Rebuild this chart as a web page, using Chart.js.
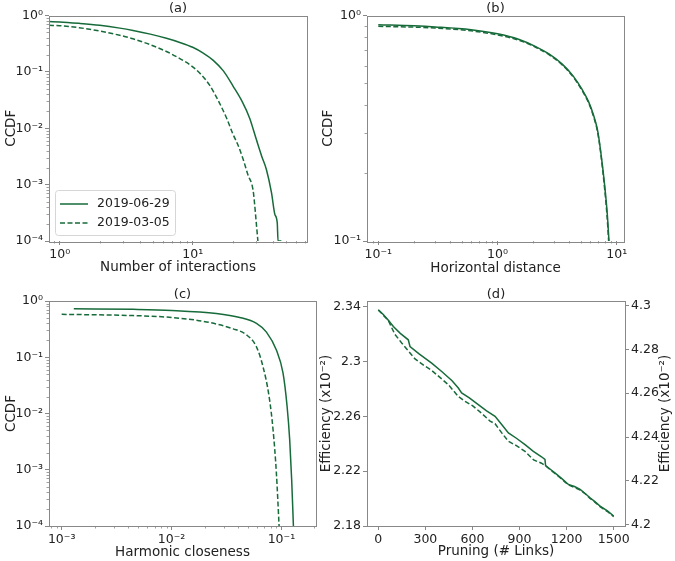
<!DOCTYPE html>
<html>
<head>
<meta charset="utf-8">
<script src="https://cdn.jsdelivr.net/npm/chart.js@4"></script>
<style>
  body { margin: 0; background: #fff; }
  #wrap { position: relative; width: 675px; height: 561px; overflow: hidden; }
  canvas { position: absolute; }
</style>
</head>
<body>
<div id="wrap">
  <canvas id="chartA" width="330" height="280" style="left:0;top:0"></canvas>
  <canvas id="chartB" width="360" height="280" style="left:315px;top:0"></canvas>
  <canvas id="chartC" width="330" height="281" style="left:0;top:280px"></canvas>
  <canvas id="chartD" width="360" height="281" style="left:315px;top:280px"></canvas>
</div>
<script>
// four panels, each one its own chart

const GREEN = '#176b3a';
const FRAME = '#888';
const DATES = ['2019-06-29', '2019-03-05'];
const PANEL_TITLES = ['(a)', '(b)', '(c)', '(d)'];

// (a) number of interactions
const interX0629 = [0.83, 1.0, 1.4, 2.0, 2.83, 3.56, 4.8, 6.34, 8.0, 10, 12, 14.2, 17, 20.1, 23.5, 26.8, 30.1, 33, 35.8, 39.1, 41.4, 43.2, 43.8, 46.4];
const interY0629 = [0.78, 0.77, 0.726, 0.67, 0.597, 0.542, 0.467, 0.394, 0.333, 0.273, 0.215, 0.162, 0.104, 0.056, 0.030, 0.0151, 0.0063, 0.0032, 0.00186, 0.00072, 0.0003, 0.00021, 0.0001, 0.0001];
const interX0305 = [0.83, 1.0, 1.4, 2.0, 2.83, 3.56, 4.8, 6.34, 8.0, 10, 11.6, 13.4, 15.9, 18, 20.1, 22, 23.9, 26.0, 28.4, 29.2, 30.1, 30.9];
const interY0305 = [0.67, 0.66, 0.607, 0.53, 0.445, 0.386, 0.303, 0.230, 0.172, 0.123, 0.089, 0.058, 0.028, 0.015, 0.0078, 0.0049, 0.00285, 0.0015, 0.00081, 0.00045, 0.0002, 0.0001];

// (b) horizontal distance
const distX0629 = [0.1, 0.2, 0.3, 0.6, 1.0, 1.5, 2.07, 2.7, 3.47, 4.3, 5.12, 5.8, 6.4, 6.9, 7.3, 7.93, 8.35, 8.6];
const distY0629 = [0.91, 0.90, 0.89, 0.865, 0.83, 0.785, 0.73, 0.675, 0.61, 0.54, 0.47, 0.415, 0.36, 0.31, 0.254, 0.175, 0.129, 0.1];
const distX0305 = [0.1, 0.2, 0.3, 0.6, 1.0, 1.5, 2.07, 2.7, 3.47, 4.3, 5.12, 5.8, 6.4, 6.9, 7.3, 7.9, 8.3, 8.55];
const distY0305 = [0.895, 0.888, 0.88, 0.855, 0.82, 0.778, 0.725, 0.67, 0.605, 0.535, 0.465, 0.41, 0.355, 0.305, 0.25, 0.172, 0.128, 0.1];

// (c) harmonic closeness
const closeX0629 = [0.00129, 0.00449, 0.01, 0.0256, 0.0418, 0.0593, 0.0731, 0.090, 0.1035, 0.1127, 0.119, 0.124, 0.1286];
const closeY0629 = [0.73, 0.71, 0.68, 0.60, 0.51, 0.40, 0.28, 0.134, 0.052, 0.0133, 0.0034, 0.00067, 0.0001];
const closeX0305 = [0.001, 0.00449, 0.01, 0.0208, 0.0364, 0.0481, 0.0593, 0.068, 0.0773, 0.084, 0.090, 0.0953];
const closeY0305 = [0.58, 0.55, 0.51, 0.425, 0.32, 0.25, 0.153, 0.068, 0.020, 0.0051, 0.00088, 0.0001];

// (d) pruning, left axis for 06-29, right axis for 03-05
const pruneX0629 = [0, 30, 64, 96, 140, 191, 202, 260, 340, 404, 470, 510, 531, 580, 637, 690, 744, 790, 829, 880, 935, 988, 1040, 1062, 1066, 1100, 1137, 1175, 1211, 1250, 1286, 1320, 1349, 1380, 1413, 1460, 1500];
const effic0629 = [2.3376, 2.3345, 2.3300, 2.3255, 2.3205, 2.3158, 2.3109, 2.3055, 2.2988, 2.2927, 2.2860, 2.2806, 2.2770, 2.2735, 2.2685, 2.2640, 2.2600, 2.2535, 2.2479, 2.2440, 2.2394, 2.2345, 2.2305, 2.2285, 2.2241, 2.2210, 2.2176, 2.2140, 2.2103, 2.2088, 2.2067, 2.2035, 2.2006, 2.1978, 2.1945, 2.1910, 2.1873];
const pruneX0305 = [0, 30, 64, 85, 106, 149, 234, 290, 340, 404, 446, 510, 553, 600, 648, 712, 744, 790, 829, 880, 935, 990, 1040, 1073, 1105, 1137, 1175, 1211, 1250, 1286, 1320, 1349, 1380, 1413, 1460, 1500];
const effic0305 = [4.2979, 4.2957, 4.2931, 4.2899, 4.2868, 4.2829, 4.2756, 4.2727, 4.2704, 4.2665, 4.2639, 4.2585, 4.2563, 4.2543, 4.2515, 4.2473, 4.2461, 4.2416, 4.2381, 4.2361, 4.2335, 4.2296, 4.2281, 4.2265, 4.2246, 4.2228, 4.2205, 4.2182, 4.2170, 4.2159, 4.2141, 4.2121, 4.2104, 4.2083, 4.2061, 4.2038];

// tick values for panel (d)
const pruneTicks = [0, 300, 600, 900, 1200, 1500];
const leftEffTicks = [2.18, 2.22, 2.26, 2.30, 2.34];
const rightEffTicks = [4.2, 4.22, 4.24, 4.26, 4.28, 4.3];

Chart.defaults.font.family = "'DejaVu Sans', sans-serif";
Chart.defaults.color = '#222';

const SUP = { '0': '⁰', '1': '¹', '2': '²', '3': '³', '4': '⁴', '5': '⁵', '6': '⁶', '7': '⁷', '8': '⁸', '9': '⁹', '-': '⁻' };
function pow10Label(v) {
    const e = Math.round(Math.log10(v));
    return '10' + String(e).split('').map(c => SUP[c]).join('');
}

// 1..9 x 10^n inside the range, powers of ten are major
function logTicks(min, max) {
    const out = [];
    for (let e = Math.floor(Math.log10(min)); e <= Math.ceil(Math.log10(max)); e++) {
        for (let k = 1; k <= 9; k++) {
            const v = k * Math.pow(10, e);
            if (v >= min * 0.9999 && v <= max * 1.0001) out.push({ value: v, major: k === 1 });
        }
    }
    return out;
}

// major ticks through chart.js, minor ones drawn shorter by a plugin
const tickGrid = {
    drawOnChartArea: false,
    drawTicks: true,
    tickLength: 4,
    tickWidth: 1,
    tickColor: ctx => (ctx.tick && ctx.tick.major ? FRAME : 'rgba(0,0,0,0)')
};

function logAxis(pos, min, max, title, size, titlePad) {
    return {
        type: 'logarithmic', position: pos, min: min, max: max,
        afterBuildTicks: s => { s.ticks = logTicks(min, max); },
        afterFit: s => { if (pos === 'bottom') s.height = size; else s.width = size; },
        border: { display: false },
        grid: tickGrid,
        ticks: {
            autoSkip: false, maxRotation: 0, padding: 2, font: { size: 12.5 },
            callback: (v, i, t) => (t[i].major ? pow10Label(v) : '')
        },
        title: { display: !!title, text: title, font: { size: 13.5 }, padding: titlePad }
    };
}

function linAxis(pos, min, max, vals, title, size, titlePad) {
    return {
        type: 'linear', position: pos, min: min, max: max,
        afterBuildTicks: s => { s.ticks = vals.map(v => ({ value: v, major: true })); },
        afterFit: s => { if (pos === 'bottom') s.height = size; else s.width = size; },
        border: { display: false },
        grid: tickGrid,
        ticks: {
            autoSkip: false, maxRotation: 0, padding: 2, font: { size: 12.5 },
            callback: v => String(parseFloat(v.toFixed(2)))
        },
        title: { display: !!title, text: title, font: { size: 13.5 }, padding: titlePad }
    };
}

function series(xs, ys, label, dashed, axis, smooth) {
    return {
        label: label,
        data: xs.map((x, i) => ({ x: x, y: ys[i] })),
        borderColor: GREEN,
        borderWidth: 1.5,
        borderDash: dashed ? [5, 2.5] : [],
        pointRadius: 0,
        fill: false,
        tension: 0,
        cubicInterpolationMode: smooth ? 'monotone' : 'default',
        yAxisID: axis || 'y'
    };
}

// full box around the plot area like matplotlib spines, plus short minor ticks
const framePlugin = {
    id: 'frame',
    afterDraw(chart) {
        const a = chart.chartArea, ctx = chart.ctx;
        ctx.save();
        ctx.strokeStyle = FRAME;
        ctx.lineWidth = 1;
        ctx.strokeRect(Math.round(a.left) + 0.5, Math.round(a.top) + 0.5, Math.round(a.right - a.left), Math.round(a.bottom - a.top));
        ctx.lineWidth = 0.8;
        Object.values(chart.scales).forEach(s => {
            if (s.type !== 'logarithmic') return;
            s.ticks.forEach(t => {
                if (t.major) return;
                const p = Math.round(s.getPixelForValue(t.value)) + 0.5;
                ctx.beginPath();
                if (s.isHorizontal()) { ctx.moveTo(p, s.top); ctx.lineTo(p, s.top + 2.5); }
                else { ctx.moveTo(s.right, p); ctx.lineTo(s.right - 2.5, p); }
                ctx.stroke();
            });
        });
        ctx.restore();
    }
};

// legend box in the lower left of panel (a)
const boxLegend = {
    id: 'boxLegend',
    afterDraw(chart) {
        const a = chart.chartArea, ctx = chart.ctx;
        const x = a.left + 6, y = a.bottom - 51, w = 120, h = 45;
        ctx.save();
        ctx.beginPath();
        ctx.roundRect(x + 0.5, y + 0.5, w, h, 3);
        ctx.fillStyle = 'rgba(255,255,255,0.8)';
        ctx.fill();
        ctx.strokeStyle = '#d6d6d6';
        ctx.lineWidth = 1;
        ctx.stroke();
        ctx.font = "12.5px 'DejaVu Sans'";
        ctx.textBaseline = 'middle';
        chart.data.datasets.forEach((ds, i) => {
            const cy = y + 14 + i * 19;
            ctx.strokeStyle = ds.borderColor;
            ctx.lineWidth = ds.borderWidth;
            ctx.setLineDash(ds.borderDash);
            ctx.beginPath();
            ctx.moveTo(x + 5, cy);
            ctx.lineTo(x + 33, cy);
            ctx.stroke();
            ctx.setLineDash([]);
            ctx.fillStyle = '#222';
            ctx.fillText(ds.label, x + 42, cy);
        });
        ctx.restore();
    }
};

// right y title reading bottom to top
const rightTitle = {
    id: 'rightTitle',
    afterDraw(chart) {
        const s = chart.scales.y1, ctx = chart.ctx;
        ctx.save();
        ctx.translate(s.right - 10, (s.top + s.bottom) / 2);
        ctx.rotate(-Math.PI / 2);
        ctx.font = "13.5px 'DejaVu Sans'";
        ctx.fillStyle = '#222';
        ctx.textAlign = 'center';
        ctx.textBaseline = 'middle';
        ctx.fillText('Efficiency (x10⁻²)', 0, 0);
        ctx.restore();
    }
};

function makeChart(id, title, datasets, scales, padding, plugins) {
    return new Chart(document.getElementById(id), {
        type: 'line',
        data: { datasets: datasets },
        options: {
            responsive: false,
            animation: false,
            events: [],
            layout: { padding: padding },
            scales: scales,
            plugins: {
                legend: { display: false },
                tooltip: { enabled: false },
                title: {
                    display: true, text: title, fullSize: false, color: '#222',
                    font: { size: 13, weight: 'normal', lineHeight: 1 }, padding: { top: 2.5, bottom: 0 }
                }
            }
        },
        plugins: [framePlugin].concat(plugins || [])
    });
}

makeChart('chartA', PANEL_TITLES[0],
    [series(interX0629, interY0629, DATES[0], false, 'y', true),
     series(interX0305, interY0305, DATES[1], true, 'y', true)],
    {
        x: logAxis('bottom', 0.831, 72.3, 'Number of interactions', 39, { top: 0, bottom: 4 }),
        y: logAxis('left', 1e-4, 1, 'CCDF', 49, { top: 3, bottom: 0 })
    },
    { top: 0, right: 23, bottom: 0, left: 0 }, [boxLegend]);

makeChart('chartB', PANEL_TITLES[1],
    [series(distX0629, distY0629, DATES[0], false, 'y', true),
     series(distX0305, distY0305, DATES[1], true, 'y', true)],
    {
        x: logAxis('bottom', 0.0804, 11.5, 'Horizontal distance', 39, { top: 0, bottom: 3 }),
        y: logAxis('left', 0.1, 1, 'CCDF', 52, { top: 5, bottom: 0 })
    },
    { top: 0, right: 51, bottom: 0, left: 0 });

makeChart('chartC', PANEL_TITLES[2],
    [series(closeX0629, closeY0629, DATES[0], false, 'y', true),
     series(closeX0305, closeY0305, DATES[1], true, 'y', true)],
    {
        x: logAxis('bottom', 0.000767, 0.2065, 'Harmonic closeness', 35, { top: 0, bottom: 0 }),
        y: logAxis('left', 1e-4, 1, 'CCDF', 49, { top: 3, bottom: 0 })
    },
    { top: 5.5, right: 14, bottom: 0, left: 0 });

makeChart('chartD', PANEL_TITLES[3],
    [series(pruneX0629, effic0629, DATES[0], false, 'y', false),
     series(pruneX0305, effic0305, DATES[1], true, 'y1', false)],
    {
        x: linAxis('bottom', -72, 1572, pruneTicks, 'Pruning (# Links)', 35, { top: 0, bottom: 1 }),
        y: linAxis('left', 2.18, 2.3441, leftEffTicks, 'Efficiency (x10⁻²)', 52, { top: 3, bottom: 0 }),
        y1: linAxis('right', 4.1995, 4.302, rightEffTicks, '', 50, 0)
    },
    { top: 5.5, right: 0, bottom: 0, left: 0 }, [rightTitle]);
</script>
</body>
</html>
